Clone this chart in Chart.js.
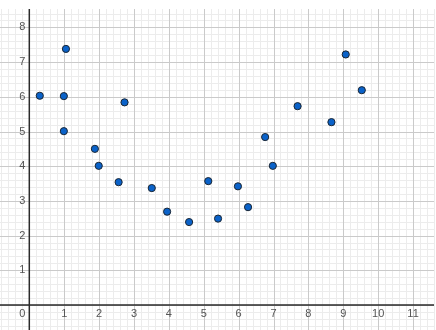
<!DOCTYPE html>
<html>
<head>
<meta charset="utf-8">
<script src="https://cdn.jsdelivr.net/npm/chart.js@4"></script>
<style>
  html, body { margin: 0; padding: 0; background: #fff; }
  #wrap { width: 436px; height: 330px; }
</style>
</head>
<body>
<div id="wrap"><canvas id="chart" width="436" height="330"></canvas></div>
<script>
// data points
const xValues = [0.30, 0.99, 1.05, 0.99, 1.88, 1.99, 2.56, 2.73, 3.51, 3.95, 4.58,
                 5.13, 5.41, 5.98, 6.27, 6.76, 6.98, 7.69, 8.66, 9.07, 9.53]
const yValues = [6.03, 6.02, 7.38, 5.01, 4.50, 4.01, 3.54, 5.84, 3.37, 2.69, 2.39,
                 3.57, 2.49, 3.42, 2.82, 4.84, 4.01, 5.73, 5.27, 7.22, 6.19]
const xTickLabels = [1, 2, 3, 4, 5, 6, 7, 8, 9, 10, 11]
const yTickLabels = [1, 2, 3, 4, 5, 6, 7, 8]

const points = xValues.map((x, i) => ({ x: x, y: yValues[i] }))

// graph-paper grid, axes and axis numbers, drawn through the chart's scales
const graphPaper = {
  id: 'graphPaper',
  beforeDatasetsDraw(chart) {
    const c = chart.ctx
    const area = chart.chartArea
    const xs = chart.scales.x
    const ys = chart.scales.y
    c.save()
    c.lineWidth = 1
    // minor then major lines
    for (const pass of ['minor', 'major']) {
      c.strokeStyle = pass === 'minor' ? '#ececec' : '#cacaca'
      c.beginPath()
      for (let i = Math.ceil(xs.min * 5); i <= Math.floor(xs.max * 5); i++) {
        if ((i % 5 === 0) !== (pass === 'major')) continue
        const px = Math.round(xs.getPixelForValue(i / 5)) + 0.5
        c.moveTo(px, area.top)
        c.lineTo(px, area.bottom)
      }
      for (let i = Math.ceil(ys.min * 5); i <= Math.floor(ys.max * 5); i++) {
        if ((i % 5 === 0) !== (pass === 'major')) continue
        const py = Math.round(ys.getPixelForValue(i / 5)) + 0.5
        c.moveTo(area.left, py)
        c.lineTo(area.right, py)
      }
      c.stroke()
    }
    const x0 = xs.getPixelForValue(0)
    const y0 = ys.getPixelForValue(0)
    c.strokeStyle = '#2b2b2b'
    c.lineWidth = 1.5
    c.beginPath()
    c.moveTo(x0, area.top)
    c.lineTo(x0, area.bottom)
    c.moveTo(area.left, y0)
    c.lineTo(area.right, y0)
    c.stroke()

    c.font = '11px "Liberation Sans", Arial, sans-serif'
    c.fillStyle = '#555555'
    c.textBaseline = 'middle'
    c.textAlign = 'center'
    xTickLabels.forEach((t) => {
      c.fillText(String(t), xs.getPixelForValue(t), y0 + 8.5)
    })
    c.textAlign = 'right'
    yTickLabels.forEach((t) => {
      c.fillText(String(t), x0 - 4, ys.getPixelForValue(t))
    })
    c.fillText('0', x0 - 4, y0 + 8.5)
    c.restore()
  },
}

new Chart(document.getElementById('chart').getContext('2d'), {
  type: 'scatter',
  data: {
    datasets: [
      {
        data: points,
        backgroundColor: '#0a62c9',
        borderColor: '#1b2633',
        borderWidth: 1,
        pointRadius: 3.6,
        pointHoverRadius: 3.6,
      },
    ],
  },
  options: {
    responsive: false,
    animation: false,
    events: [],
    layout: { autoPadding: false, padding: { top: 9, right: 2, left: 0, bottom: 0 } },
    plugins: { legend: { display: false }, tooltip: { enabled: false } },
    scales: {
      x: { type: 'linear', min: -0.84, max: 11.6, display: false },
      y: { type: 'linear', min: -0.72, max: 8.53, display: false },
    },
  },
  plugins: [graphPaper],
})
</script>
</body>
</html>
